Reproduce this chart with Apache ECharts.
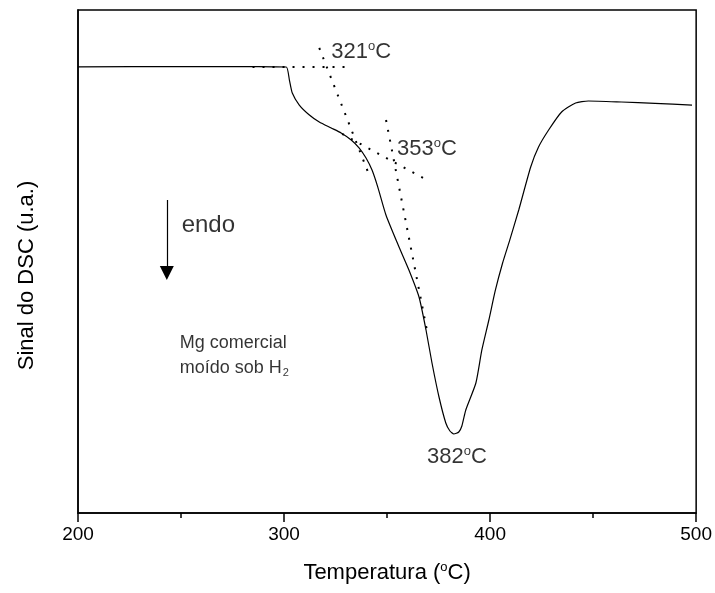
<!DOCTYPE html>
<html><head><meta charset="utf-8">
<script src="https://cdn.jsdelivr.net/npm/echarts@6/dist/echarts.min.js"></script>
<style>html,body{margin:0;padding:0;background:#fff}#c{width:715px;height:593px}</style>
</head><body><div id="c"></div>
<script>
// DSC curve: temperature (°C) and signal (arbitrary units)
const temps = [200,250,280,295,301.1,302.6,304.0,307.4,312.3,317.1,322.9,327.7,332.6,336.5,339.8,342.7,345.5,349.5,355.8,360.6,365.5,368.9,371.8,375.2,378.5,380.5,382.4,384.8,386.3,388.2,393.1,396.0,399.4,402.5,406.0,409.5,413.9,419.7,423.5,428.4,434.7,441.5,447.7,463.7,480,498];
const signal = [88.7,88.75,88.75,88.7,88.67,86.08,83.5,81.11,79.13,77.73,76.54,75.55,74.16,72.56,70.58,68.19,64.8,59.2,52.88,48.31,42.94,36.38,29.82,23.06,17.89,16.3,15.71,16.1,17.3,20.48,25.84,32.41,38.37,44.2,49.6,54.2,60.24,68.79,72.76,76.14,79.72,81.51,81.91,81.71,81.45,81.1];
// tangent construction lines (dotted)
const tangentBase = [[284.7,88.67],[332.6,88.67]];
const tangentSteep1 = [[317.1,92.45],[341.3,67.2]];
const tangentShallow = [[328.2,75.35],[368.4,66.4]];
const tangentSteep2 = [[349.5,78.13],[369.3,36.38]];
// annotations
const onsetLabels = [
  {name:'321', value:[322.9,91.6]},
  {name:'353', value:[354.8,72.37]}
];
const peakLabel = {name:'382', value:[383.9,11.13]};
const endoArrow = [[243.1,62.23],[243.1,47.71]];
const endoText = [250.3,57.26];
const sampleText1 = [249.4,33.8];
const sampleText2 = [249.4,28.83];

const FONT = '"Liberation Sans", Arial, sans-serif';
const chart = echarts.init(document.getElementById('c'));
const degRich = {
  n:{fontSize:22,fontFamily:FONT,color:'#000',lineHeight:24},
  s:{fontSize:13,fontFamily:FONT,color:'#000',verticalAlign:'top',lineHeight:13}
};
function dotted(data){
  return {type:'line',data:data,symbol:'none',silent:true,
    lineStyle:{color:'#000',width:2,type:[2,8],opacity:1},z:3};
}
chart.setOption({
  animation:false,
  grid:{left:78,right:17,top:10,bottom:80,show:true,borderColor:'#000',borderWidth:1.5},
  xAxis:{type:'value',min:200,max:500,interval:100,
    axisLine:{lineStyle:{color:'#000',width:1.5}},
    axisTick:{show:true,length:9,lineStyle:{color:'#000',width:1.5}},
    minorTick:{show:true,splitNumber:2,length:5,lineStyle:{color:'#000',width:1.5}},
    splitLine:{show:false},
    axisLabel:{color:'#000',fontSize:19,fontFamily:FONT,margin:12},
    name:'{n|Temperatura (}{s|o}{n|C)}',nameLocation:'middle',nameGap:48,
    nameTextStyle:{rich:{
      n:{fontSize:22,fontFamily:FONT,color:'#000',lineHeight:24},
      s:{fontSize:13,fontFamily:FONT,color:'#000',verticalAlign:'top',lineHeight:13}
    }}
  },
  yAxis:{type:'value',min:0,max:100,
    axisLine:{show:true,lineStyle:{color:'#000',width:1.5}},
    axisTick:{show:false},axisLabel:{show:false},splitLine:{show:false},
    name:'Sinal do DSC (u.a.)',nameLocation:'middle',nameGap:40,nameRotate:90,
    nameTextStyle:{fontSize:22,fontFamily:FONT,color:'#000',padding:[0,0,0,-28]}
  },
  series:[
    {type:'line',data:temps.map((t,i)=>[t,signal[i]]),symbol:'none',smooth:0.2,
      lineStyle:{color:'#000',width:1.2},z:4},
    dotted(tangentBase),dotted(tangentSteep1),dotted(tangentShallow),dotted(tangentSteep2),
    {type:'scatter',symbolSize:0,data:onsetLabels,
      label:{show:true,position:'right',distance:0,
        formatter:p=>'{n|'+p.name+'}{s|o}{n|C}',rich:degRich}},
    {type:'scatter',symbolSize:0,data:[peakLabel],
      label:{show:true,position:'inside',
        formatter:p=>'{n|'+p.name+'}{s|o}{n|C}',rich:degRich}},
    {type:'lines',coordinateSystem:'cartesian2d',polyline:false,
      data:[{coords:endoArrow}],symbol:['none','triangle'],symbolSize:[6,14],
      itemStyle:{color:'#000',opacity:1},
      lineStyle:{color:'#000',width:1.2,curveness:0,opacity:1}},
    {type:'scatter',symbolSize:0,data:[endoText],
      label:{show:true,position:'right',distance:0,formatter:'endo',
        fontSize:24,fontFamily:FONT,color:'#000'}},
    {type:'scatter',symbolSize:0,data:[sampleText1],
      label:{show:true,position:'right',distance:0,formatter:'Mg comercial',
        fontSize:18,fontFamily:FONT,color:'#000'}},
    {type:'scatter',symbolSize:0,data:[sampleText2],
      label:{show:true,position:'right',distance:0,
        formatter:'{n|moído sob H}{b|2}',
        rich:{n:{fontSize:18,fontFamily:FONT,color:'#000',lineHeight:20},
              b:{fontSize:11,fontFamily:FONT,color:'#000',verticalAlign:'bottom',lineHeight:11,padding:[12,0,0,1]}}}}
  ]
});
</script></body></html>
